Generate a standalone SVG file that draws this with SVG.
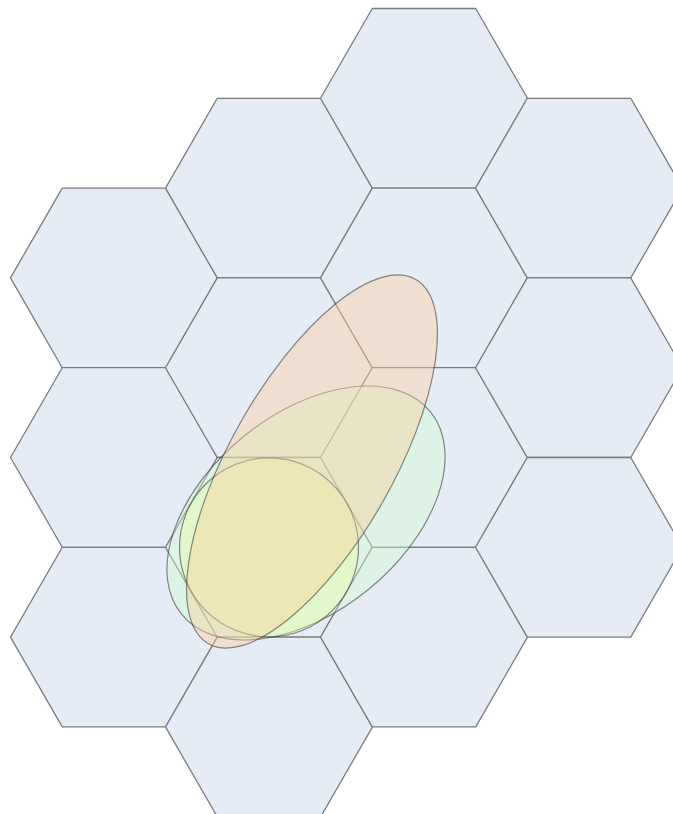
<svg xmlns="http://www.w3.org/2000/svg" xmlns:xlink="http://www.w3.org/1999/xlink" width="673" height="814" viewBox="0 0 673 814">
  <style>
    .hex { fill: #e6ecf6; stroke: #7c7c7c; stroke-width: 1.3; stroke-linejoin: round; }
    .blob { stroke: #3a3a3a; stroke-opacity: 0.6; stroke-width: 1.2; }
    .green { fill: #ccffcc; fill-opacity: 0.4; }
    .circ { fill: #ebffa5; fill-opacity: 0.4; }
    .orange { fill: #ffcc99; fill-opacity: 0.4; }
  </style>
  <defs>
    <polygon id="hexshape" points="-103.5,0 -51.75,-89.8 51.75,-89.8 103.5,0 51.75,89.8 -51.75,89.8"/>
  </defs>
  <rect width="673" height="814" fill="#ffffff"/>
  <g id="hexes">
    <g id="hex-c0-r1"><use xlink:href="#hexshape" href="#hexshape" class="hex" transform="translate(114,277.9)"/></g>
    <g id="hex-c0-r2"><use xlink:href="#hexshape" href="#hexshape" class="hex" transform="translate(114,457.5)"/></g>
    <g id="hex-c0-r3"><use xlink:href="#hexshape" href="#hexshape" class="hex" transform="translate(114,637.1)"/></g>
    <g id="hex-c1-r0"><use xlink:href="#hexshape" href="#hexshape" class="hex" transform="translate(269,188.1)"/></g>
    <g id="hex-c1-r1"><use xlink:href="#hexshape" href="#hexshape" class="hex" transform="translate(269,367.7)"/></g>
    <g id="hex-c1-r2"><use xlink:href="#hexshape" href="#hexshape" class="hex" transform="translate(269,547.3)"/></g>
    <g id="hex-c1-r3"><use xlink:href="#hexshape" href="#hexshape" class="hex" transform="translate(269,726.9)"/></g>
    <g id="hex-c2-r0"><use xlink:href="#hexshape" href="#hexshape" class="hex" transform="translate(424,98.3)"/></g>
    <g id="hex-c2-r1"><use xlink:href="#hexshape" href="#hexshape" class="hex" transform="translate(424,277.9)"/></g>
    <g id="hex-c2-r2"><use xlink:href="#hexshape" href="#hexshape" class="hex" transform="translate(424,457.5)"/></g>
    <g id="hex-c2-r3"><use xlink:href="#hexshape" href="#hexshape" class="hex" transform="translate(424,637.1)"/></g>
    <g id="hex-c3-r0"><use xlink:href="#hexshape" href="#hexshape" class="hex" transform="translate(579,188.1)"/></g>
    <g id="hex-c3-r1"><use xlink:href="#hexshape" href="#hexshape" class="hex" transform="translate(579,367.7)"/></g>
    <g id="hex-c3-r2"><use xlink:href="#hexshape" href="#hexshape" class="hex" transform="translate(579,547.3)"/></g>
  </g>
  <g id="green-ellipse">
    <ellipse class="blob green" cx="0" cy="0" rx="160.4" ry="98.7" transform="translate(306,513) rotate(-39.2)"/>
  </g>
  <g id="yellow-circle">
    <circle class="blob circ" cx="269" cy="547.3" r="89.5"/>
  </g>
  <g id="orange-ellipse">
    <ellipse class="blob orange" cx="0" cy="0" rx="209.5" ry="81.5" transform="translate(312,461.5) rotate(-60.4)"/>
  </g>
  <g id="connectors"/>
</svg>
